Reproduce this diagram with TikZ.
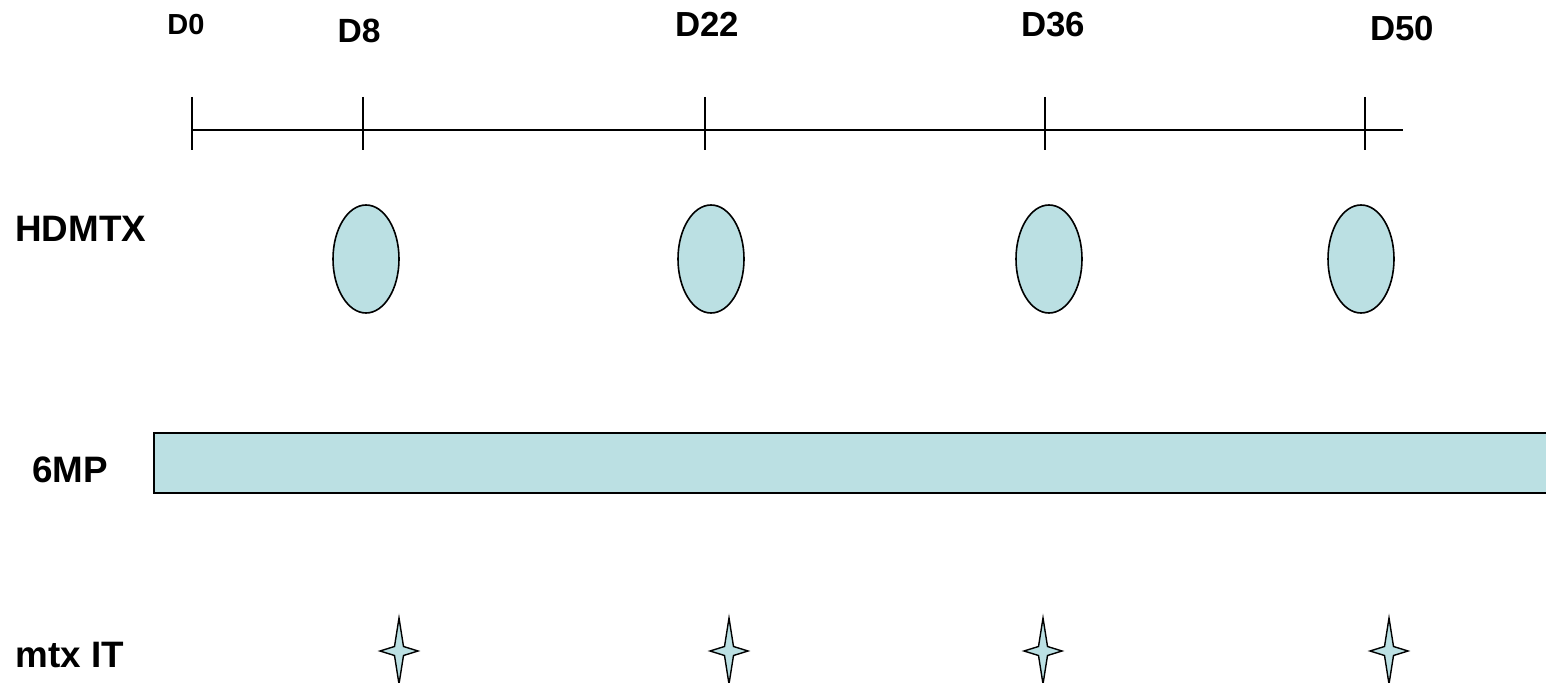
\documentclass[tikz,border=0pt]{standalone}
\usepackage{fontspec}
\setmainfont{Liberation Sans}
\usepackage{tikz}
\usetikzlibrary{shapes.geometric,positioning}
\definecolor{dosefill}{RGB}{187,224,227}

\begin{document}
\begin{tikzpicture}[x=0.5pt,y=-0.5pt,
    rowlabel/.style={font=\fontsize{18.4}{20}\selectfont\bfseries, anchor=west, inner sep=0},
    daylabel/.style={font=\fontsize{17.4}{19}\selectfont\bfseries, inner sep=0},
    dose/.style={ellipse, draw, line width=0.8pt, fill=dosefill,
                 minimum width=33pt, minimum height=54pt, inner sep=0}]
  \useasboundingbox (0,0) rectangle (1546,683);
  \clip (0,0) rectangle (1546,683);
  % Day axis
  \coordinate (t0) at (192,130);
  \coordinate (tend) at (1403,130);
  \draw[line width=0.8pt] (t0) -- (tend);
  \foreach \x in {192,363,705,1045,1365}
    \draw[line width=0.8pt] (\x,97) -- (\x,150);
  % Day labels
  \node[daylabel, font=\fontsize{14.5}{16}\selectfont\bfseries] (d0) at (186,25) {D0};
  \node[daylabel, font=\fontsize{16.8}{18}\selectfont\bfseries] (d8) at (359,31) {D8};
  \node[daylabel] (d22) at (707,24)  {D22};
  \node[daylabel] (d36) at (1053,25) {D36};
  \node[daylabel] (d50) at (1402,29) {D50};
  % Row labels
  \node[rowlabel] (hdmtx) at (15,229) {HDMTX};
  \node[rowlabel] (mp)    at (32,470) {6MP};
  \node[rowlabel] (mtxit) at (15,655) {mtx IT};
  % HDMTX doses
  \foreach \x/\d in {366/8, 711/22, 1049/36, 1361/50}
    \node[dose] (hd\d) at (\x,259) {};
  % 6MP runs the whole time
  \filldraw[fill=dosefill, line width=0.8pt] (154,433) rectangle (1600,493);
  % Intrathecal doses
  \foreach \x in {399,729,1043,1389}
    \draw[fill=dosefill, line width=0.7pt, line join=miter, shift={(\x,651)}]
      (0,-33) -- (4.5,-4.5) -- (19,0) -- (4.5,4.5) -- (0,33) -- (-4.5,4.5)
      -- (-19,0) -- (-4.5,-4.5) -- cycle;
\end{tikzpicture}
\end{document}
